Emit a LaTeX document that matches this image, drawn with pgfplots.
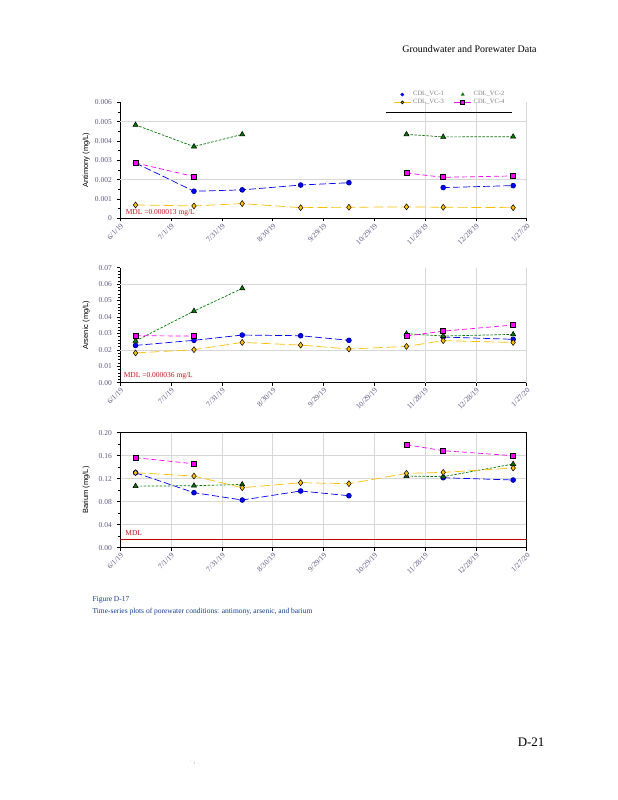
\documentclass[border=0pt]{standalone}
\usepackage{pgfplots}
\pgfplotsset{compat=1.18}
\usepackage{fontspec}
\setmainfont{Liberation Serif}
\newfontfamily\labelsans{Liberation Sans}

\definecolor{tickcol}{RGB}{95,90,130}
\definecolor{mdlred}{RGB}{200,20,30}
\definecolor{mdlline}{RGB}{195,0,0}
\definecolor{vcblue}{RGB}{0,0,255}
\definecolor{vcgreen}{RGB}{0,120,0}
\definecolor{vcorange}{RGB}{255,192,0}
\definecolor{vcmag}{RGB}{255,0,255}
\definecolor{capblue}{RGB}{20,60,150}
\definecolor{gridgray}{RGB}{215,215,215}

\tikzset{gl/.style={gridgray, line width=0.6pt}}

\pgfplotsset{
  vc1/.style={color=vcblue, line width=0.7pt, dash pattern=on 7pt off 3pt,
    mark=*, mark size=2.4pt, mark options={solid, fill=vcblue, draw=vcblue!60!black}},
  vc2/.style={color=vcgreen, line width=0.7pt, dash pattern=on 2.5pt off 1.5pt,
    mark=triangle*, mark size=3pt, mark options={solid, fill=vcgreen, draw=black, line width=0.5pt}},
  vc3/.style={color=vcorange, line width=0.7pt, dash pattern=on 10pt off 4pt,
    mark=diamond*, mark size=3pt, mark options={solid, fill=vcorange, draw=black, line width=0.5pt}},
  vc4/.style={color=vcmag, line width=0.7pt, dash pattern=on 5pt off 3pt,
    mark=square*, mark size=2.5pt, mark options={solid, fill=vcmag, draw=black, line width=0.8pt}},
  panel/.style={
    scale only axis, width=406.4pt,
    xmin=0, xmax=240,
    xtick={0,30,...,240},
    xticklabels={6/1/19,7/1/19,7/31/19,8/30/19,9/29/19,10/29/19,11/28/19,12/28/19,1/27/20},
    scaled y ticks=false,
    tick align=outside,
    major tick length=3pt, minor tick length=2pt,
    tick style={black, line width=0.6pt},
    axis line style={black, line width=0.8pt},
    ticklabel style={font=\fontsize{7.5}{8}\selectfont, text=tickcol},
    xticklabel style={rotate=45, anchor=north east, inner sep=1pt},
    yticklabel style={xshift=-2pt},
    every axis y label/.style={at={(rel axis cs:0,0.5)}, xshift=-34pt, rotate=90,
      anchor=center, font=\labelsans\fontsize{7.5}{8}\selectfont},
    unbounded coords=jump,
    clip mode=individual,
  },
  halfgrid/.style={axis x line*=bottom, axis y line*=left},
}

\begin{document}
\begin{tikzpicture}
\useasboundingbox[fill=white] (0pt,0pt) rectangle (618pt,800pt);

\node[anchor=base east, font=\fontsize{10}{12}\selectfont] at (540pt,747pt) {Groundwater and Porewater Data};

% Antimony
\begin{axis}[panel, halfgrid,
  at={(120.3pt,581.7pt)}, anchor=south west, height=116pt,
  ymin=0, ymax=0.006, ytick={0,0.001,...,0.006},
  yticklabels={0,0.001,0.002,0.003,0.004,0.005,0.006},
  minor y tick num=1,
  ylabel={Antimony (mg/L)},
  legend style={at={(0.811,1.033)}, anchor=center, draw=none, fill=none,
    font=\fontsize{6.5}{7}\selectfont, text=gray, legend columns=2,
    row sep=-2pt, /tikz/every even column/.append style={column sep=8pt}},
  legend cell align=left,
]
% grid lines seen in the reference
\draw[gl] (axis cs:0,0.002) -- (axis cs:240,0.002);
\draw[gl] (axis cs:0,0.005) -- (axis cs:240,0.005);
\draw[gl] (axis cs:180,0) -- (axis cs:180,0.006);
\draw[gl] (axis cs:210,0) -- (axis cs:210,0.006);
\draw[gl] (axis cs:240,0) -- (axis cs:240,0.006);

\addlegendimage{only marks, mark=*, mark size=1.6pt, color=vcblue}
\addlegendentry{CDL\_VC-1}
\addlegendimage{only marks, mark=triangle*, mark size=1.8pt, color=vcgreen}
\addlegendentry{CDL\_VC-2}
\addlegendimage{color=vcorange, line width=0.7pt, mark=*, mark size=1.4pt, mark options={fill=vcorange, draw=black}}
\addlegendentry{CDL\_VC-3}
\addlegendimage{color=vcmag, line width=0.7pt, mark=square*, mark size=2pt, mark options={fill=vcmag, draw=black}}
\addlegendentry{CDL\_VC-4}

\addplot[vc1, forget plot] coordinates {(9,0.00286) (43.5,0.00140) (72,0.00147) (106.5,0.00172) (135,0.00184) (150,nan) (190.7,0.00159) (232,0.00169)};
\addplot[vc2, forget plot] coordinates {(9,0.00483) (43.5,0.00371) (72,0.00434) (120,nan) (169,0.00434) (190.7,0.00421) (232,0.00422)};
\addplot[vc3, forget plot] coordinates {(9,0.00069) (43.5,0.00064) (72,0.00076) (106.5,0.00055) (135,0.00057) (169,0.00059) (190.7,0.00057) (232,0.00055)};
\addplot[vc4, forget plot] coordinates {(9,0.00286) (43.5,0.00216) (120,nan) (169,0.00234) (190.7,0.00212) (232,0.00219)};
\draw[black, line width=0.8pt] (rel axis cs:0.654,0.916) -- (rel axis cs:0.964,0.916);
\node[anchor=west, inner sep=0pt, text=mdlred, font=\fontsize{7.5}{8}\selectfont] at (rel axis cs:0.013,0.043) {MDL =0.000013 mg/L};
\end{axis}

% Arsenic
\begin{axis}[panel, halfgrid,
  at={(120.3pt,417.3pt)}, anchor=south west, height=115pt,
  ymin=0, ymax=0.07, ytick={0,0.01,...,0.07},
  yticklabels={0.00,0.01,0.02,0.03,0.04,0.05,0.06,0.07},
  minor y tick num=4,
  ylabel={Arsenic (mg/L)},
]
\draw[gl] (axis cs:0,0.02) -- (axis cs:240,0.02);
\draw[gl] (axis cs:0,0.06) -- (axis cs:240,0.06);
\draw[gl] (axis cs:180,0) -- (axis cs:180,0.07);
\draw[gl] (axis cs:210,0) -- (axis cs:210,0.07);
\draw[gl] (axis cs:240,0) -- (axis cs:240,0.07);

\addplot[vc1] coordinates {(9,0.0227) (43.5,0.0258) (72,0.0290) (106.5,0.0286) (135,0.0258) (150,nan) (190.7,0.0278) (232,0.0264)};
\addplot[vc2] coordinates {(9,0.0254) (43.5,0.0436) (72,0.0574) (120,nan) (169,0.0298) (190.7,0.0284) (232,0.0294)};
\addplot[vc3] coordinates {(9,0.0181) (43.5,0.0201) (72,0.0245) (106.5,0.0229) (135,0.0205) (169,0.0221) (190.7,0.0256) (232,0.0245)};
\addplot[vc4] coordinates {(9,0.0286) (43.5,0.0284) (120,nan) (169,0.0284) (190.7,0.0314) (232,0.0351)};
\node[anchor=west, inner sep=0pt, text=mdlred, font=\fontsize{7.5}{8}\selectfont] at (rel axis cs:0.008,0.058) {MDL =0.000036 mg/L};
\end{axis}

% Barium
\begin{axis}[panel,
  at={(120.3pt,252.3pt)}, anchor=south west, height=115pt,
  xtick pos=left, ytick pos=left,
  grid=major, grid style={gridgray, line width=0.6pt},
  ymin=0, ymax=0.2, ytick={0,0.04,...,0.2},
  yticklabels={0.00,0.04,0.08,0.12,0.16,0.20},
  minor y tick num=1,
  ylabel={Barium (mg/L)},
]
\addplot[mdlline, line width=0.9pt] coordinates {(0,0.015) (240,0.015)};
\addplot[vc1] coordinates {(9,0.1304) (43.5,0.0957) (72,0.0829) (106.5,0.0986) (135,0.0904) (150,nan) (190.7,0.1217) (232,0.1177)};
\addplot[vc2] coordinates {(9,0.1070) (43.5,0.1078) (72,0.1100) (120,nan) (169,0.1246) (190.7,0.1235) (232,0.1455)};
\addplot[vc3] coordinates {(9,0.1304) (43.5,0.1246) (72,0.1043) (106.5,0.1130) (135,0.1113) (169,0.1293) (190.7,0.1310) (232,0.1386)};
\addplot[vc4] coordinates {(9,0.1565) (43.5,0.1460) (120,nan) (169,0.1790) (190.7,0.1687) (232,0.1600)};
\node[anchor=west, inner sep=0pt, text=mdlred, font=\fontsize{7.5}{8}\selectfont] at (rel axis cs:0.012,0.13) {MDL};
\end{axis}

\node[anchor=base west, text=capblue, font=\fontsize{7.5}{9}\selectfont] at (89pt,198pt) {Figure D-17};
\node[anchor=base west, text=capblue, font=\fontsize{7.5}{9}\selectfont] at (89pt,186pt) {Time-series plots of porewater conditions: antimony, arsenic, and barium};
\node[anchor=base east, font=\fontsize{13}{15}\selectfont] at (548pt,53pt) {D-21};
\node[anchor=base west, text=gray!70, font=\fontsize{5}{6}\selectfont] at (186pt,35pt) {'\ \ i\ \ .};
\end{tikzpicture}
\end{document}
